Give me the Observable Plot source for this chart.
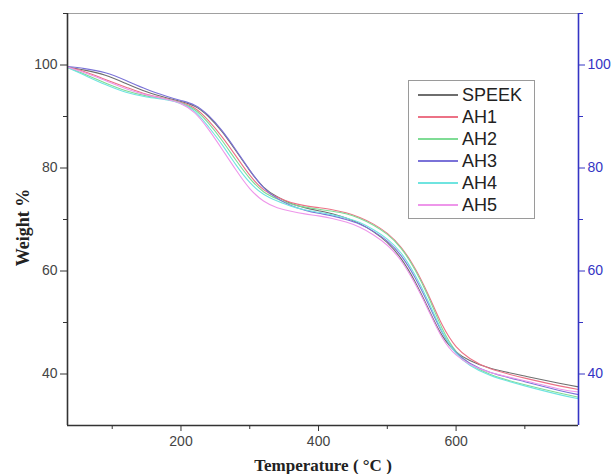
<!DOCTYPE html>
<html>
<head>
<meta charset="utf-8">
<script src="https://cdn.jsdelivr.net/npm/d3@7"></script>
<script src="https://cdn.jsdelivr.net/npm/@observablehq/plot@0.6"></script>
<style>
  html, body { margin: 0; padding: 0; background: #fff; }
  #wrap { position: relative; width: 613px; height: 474px; }
  #legend { position: absolute; left: 408px; top: 80px; width: 127px; height: 139px;
    border: 1px solid #9a9a9a; background: #fff; box-sizing: border-box;
    font-family: "Liberation Sans", Arial, sans-serif; font-size: 18px; color: #222; }
  .row { position: absolute; left: 0; height: 22px; display: flex; align-items: center; }
  .sw { display: block; width: 40px; height: 1.5px; margin-left: 9px; margin-right: 4px; }
</style>
</head>
<body>
<div id="wrap"></div>
<script>
const temps = [35, 60, 90, 120, 150, 180, 200, 220, 240, 260, 280, 300, 320, 340, 360, 380, 400, 420, 440, 460, 480, 500, 520, 540, 560, 580, 600, 620, 650, 700, 750, 778];

const seriesNames = ["SPEEK", "AH1", "AH2", "AH3", "AH4", "AH5"];
const seriesColors = ["#6e6e6e", "#ec7286", "#7fdc95", "#7a72d8", "#6fe4e0", "#ee96ea"];

const speek = [99.6, 99.0, 98.0, 96.4, 94.8, 93.6, 92.9, 92.0, 90.0, 87.0, 83.3, 79.5, 76.3, 74.4, 73.1, 72.3, 71.7, 71.1, 70.3, 69.2, 67.6, 65.5, 62.4, 58.0, 52.6, 47.4, 44.3, 42.6, 41.1, 39.6, 38.2, 37.5];
const ah1   = [99.6, 98.7, 97.2, 95.7, 94.3, 93.4, 92.7, 91.6, 89.2, 86.0, 82.3, 78.6, 75.8, 74.3, 73.3, 72.7, 72.3, 71.9, 71.3, 70.4, 69.1, 67.3, 64.6, 60.6, 55.3, 49.5, 45.3, 43.0, 41.0, 39.2, 37.7, 37.0];
const ah2   = [99.5, 98.2, 96.5, 95.0, 94.0, 93.3, 92.6, 91.3, 88.7, 85.3, 81.5, 78.0, 75.4, 74.0, 73.0, 72.4, 72.0, 71.6, 71.1, 70.2, 68.9, 67.1, 64.4, 60.3, 54.9, 48.8, 44.4, 42.0, 39.9, 37.9, 36.3, 35.5];
const ah3   = [99.7, 99.3, 98.5, 97.0, 95.3, 93.9, 93.1, 92.2, 90.2, 87.2, 83.5, 79.6, 76.2, 74.1, 72.7, 71.8, 71.2, 70.7, 70.0, 69.1, 67.7, 65.8, 63.0, 58.8, 53.5, 48.0, 44.2, 42.1, 40.3, 38.5, 36.8, 36.0];
const ah4   = [99.5, 98.0, 96.2, 94.7, 93.8, 93.2, 92.5, 91.0, 88.0, 84.5, 80.6, 77.2, 74.9, 73.6, 72.6, 71.9, 71.4, 70.9, 70.3, 69.4, 68.0, 66.2, 63.5, 59.3, 54.0, 48.2, 44.0, 41.7, 39.7, 37.7, 36.0, 35.2];
const ah5   = [99.6, 98.5, 97.0, 95.4, 94.2, 93.3, 92.5, 90.7, 87.5, 83.6, 79.6, 76.0, 73.6, 72.3, 71.6, 71.1, 70.7, 70.2, 69.5, 68.5, 67.0, 65.0, 62.0, 57.6, 52.3, 47.0, 43.7, 41.9, 40.3, 38.7, 37.1, 36.5];

const xMajor = [200, 400, 600];
const xMinor = [100, 300, 500, 700];
const yMajor = [40, 60, 80, 100];
const yMinor = [50, 70, 90, 110];
const xDomain = [35, 778];
const yDomain = [30, 110];

const seriesValues = [speek, ah1, ah2, ah3, ah4, ah5];
const data = [];
seriesNames.forEach((name, i) => {
  temps.forEach((t, j) => data.push({series: name, t, w: seriesValues[i][j]}));
});

const blue = "#3434c4";
const ink = "#333";
const serif = "'Liberation Serif', 'Times New Roman', serif";

const chart = Plot.plot({
  width: 613,
  height: 474,
  marginLeft: 67,
  marginRight: 35,
  marginTop: 13,
  marginBottom: 49,
  x: {domain: xDomain},
  y: {domain: yDomain},
  color: {domain: seriesNames, range: seriesColors},
  style: {fontFamily: "'Liberation Sans', Arial, sans-serif", fontSize: "14px", color: ink, background: "#fff"},
  marks: [
    Plot.ruleY([yDomain[1]], {stroke: "#a0a0a0", strokeWidth: 1}),
    Plot.line(data, {x: "t", y: "w", z: "series", stroke: "series", strokeWidth: 1.1, curve: "natural"}),
    Plot.ruleX([xDomain[0]], {stroke: ink, strokeWidth: 1.6}),
    Plot.ruleY([yDomain[0]], {stroke: ink, strokeWidth: 1.6}),
    Plot.ruleX([xDomain[1]], {stroke: blue, strokeWidth: 1.6}),
    Plot.axisX({ticks: xMajor, tickSize: 6, tickPadding: 5, label: null, fontSize: 14, stroke: ink, fill: "#444"}),
    Plot.axisX({ticks: xMinor, tickSize: 4, tickFormat: () => "", label: null, stroke: ink}),
    Plot.axisY({ticks: yMajor, tickSize: 7, tickPadding: 3, label: null, fontSize: 14, stroke: ink, fill: "#444"}),
    Plot.axisY({ticks: yMinor, tickSize: 4, tickFormat: () => "", label: null, stroke: ink}),
    Plot.axisY({anchor: "right", ticks: yMajor, tickSize: 6, tickPadding: 3, label: null, fontSize: 14, stroke: blue, fill: blue}),
    Plot.axisY({anchor: "right", ticks: yMinor, tickSize: 4, tickFormat: () => "", label: null, stroke: blue}),
    Plot.text(["Weight %"], {frameAnchor: "left", textAnchor: "middle", lineAnchor: "middle", dx: -44, dy: 8, rotate: -90, fontFamily: serif, fontWeight: "bold", fontSize: 18, fill: "#222"}),
    Plot.text(["Temperature ( °C )"], {frameAnchor: "bottom", textAnchor: "middle", lineAnchor: "middle", dy: 40, fontFamily: serif, fontWeight: "bold", fontSize: 17, fill: "#222"})
  ]
});

const wrap = document.getElementById("wrap");
wrap.appendChild(chart);

const legend = document.createElement("div");
legend.id = "legend";
seriesNames.forEach((name, i) => {
  const row = document.createElement("div");
  row.className = "row";
  row.style.top = (3 + i * 22) + "px";
  const sw = document.createElement("span");
  sw.className = "sw";
  sw.style.backgroundColor = seriesColors[i];
  const lab = document.createElement("span");
  lab.textContent = name;
  row.appendChild(sw);
  row.appendChild(lab);
  legend.appendChild(row);
});
wrap.appendChild(legend);
</script>
</body>
</html>
